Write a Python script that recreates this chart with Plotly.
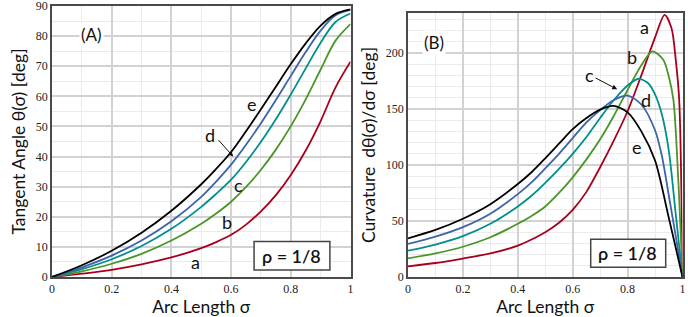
import plotly.graph_objects as go

# ---------------- data ----------------
sigma_theta = [0, 0.1, 0.2, 0.3, 0.4, 0.5, 0.55, 0.6, 0.65, 0.7, 0.75, 0.8, 0.85, 0.9, 0.95, 1.0]
theta_a = [0, 1.1, 2.4, 4.2, 6.5, 9.6, 11.6, 14.0, 17.4, 21.8, 27.2, 33.9, 42.0, 51.8, 63.0, 71.5]
theta_b = [0, 1.9, 4.4, 7.7, 12.1, 17.7, 21.1, 25.0, 29.9, 35.6, 42.3, 50.1, 59.0, 68.9, 78.5, 84.0]
theta_c = [0, 2.6, 5.9, 10.3, 16.0, 23.3, 27.6, 32.3, 38.2, 44.9, 52.4, 60.6, 69.3, 77.8, 84.7, 87.5]
theta_d = [0, 3.2, 7.1, 12.1, 18.5, 26.6, 31.7, 37.3, 43.9, 51.1, 58.8, 66.8, 74.7, 81.8, 86.9, 88.7]
theta_e = [0, 3.9, 8.7, 14.7, 22.0, 30.8, 35.9, 41.5, 48.4, 55.7, 63.2, 70.7, 77.6, 83.5, 87.4, 88.9]

sigma_ka = [0, 0.1, 0.2, 0.3, 0.4, 0.45, 0.5, 0.55, 0.6, 0.65, 0.7, 0.75, 0.8, 0.85, 0.9, 0.935, 0.96, 0.975, 0.988, 1.0]
kappa_a = [9.5, 12.5, 16.5, 21, 28, 33.5, 40, 48.5, 60, 76, 98, 122, 148, 180, 214, 234, 222, 195, 158, 0]
sigma_kb = [0, 0.1, 0.2, 0.3, 0.4, 0.45, 0.5, 0.55, 0.6, 0.65, 0.7, 0.75, 0.8, 0.85, 0.89, 0.93, 0.95, 0.967, 0.985, 1.0]
kappa_b = [16.7, 21, 27, 35.5, 47.5, 54.5, 63, 75, 89, 105, 123, 144, 167, 189, 201.5, 194, 179, 158, 85, 0]
sigma_kc = [0, 0.1, 0.2, 0.3, 0.4, 0.45, 0.5, 0.55, 0.6, 0.65, 0.7, 0.75, 0.8, 0.84, 0.875, 0.9, 0.925, 0.95, 0.975, 1.0]
kappa_c = [23.5, 29, 36.5, 47.5, 63, 72.5, 84, 96.5, 110, 125, 142, 158, 171, 177, 173, 163, 145, 113, 57, 0]
sigma_kd = [0, 0.1, 0.2, 0.3, 0.4, 0.45, 0.5, 0.55, 0.6, 0.65, 0.7, 0.75, 0.8, 0.85, 0.9, 0.925, 0.95, 0.975, 1.0]
kappa_d = [29.5, 36, 44.5, 56.5, 74, 84.5, 97, 110, 124, 138, 149, 158, 162, 154, 131, 108, 73, 37, 0]
sigma_ke = [0, 0.1, 0.2, 0.3, 0.4, 0.45, 0.5, 0.55, 0.6, 0.65, 0.7, 0.75, 0.8, 0.85, 0.9, 0.95, 1.0]
kappa_e = [34.5, 42, 52, 65, 83, 93.5, 106, 119, 132, 142, 149.5, 152.7, 147, 130, 104, 53, 0]

curve_names = ["a", "b", "c", "d", "e"]
curve_colors = ["#a8001c", "#4a9628", "#00908c", "#3c64aa", "#000000"]
x_ticks = [0, 0.2, 0.4, 0.6, 0.8, 1]
x_tick_text = ["0", "0.2", "0.4", "0.6", "0.8", "1"]
theta_ticks = [0, 10, 20, 30, 40, 50, 60, 70, 80, 90]
kappa_ticks = [0, 50, 100, 150, 200]
rho_text = "ρ = 1/8"

# ---------------- figure ----------------
W, H = 688, 317
fig = go.Figure()

thetas = [theta_a, theta_b, theta_c, theta_d, theta_e]
ksig = [sigma_ka, sigma_kb, sigma_kc, sigma_kd, sigma_ke]
kaps = [kappa_a, kappa_b, kappa_c, kappa_d, kappa_e]
for name, col, th in zip(curve_names, curve_colors, thetas):
    fig.add_trace(go.Scatter(x=sigma_theta, y=th, mode="lines", name=name,
                             line=dict(color=col, width=1.8, shape="spline", smoothing=1.0),
                             xaxis="x", yaxis="y", showlegend=False, hoverinfo="skip"))
for name, col, s, k in zip(curve_names, curve_colors, ksig, kaps):
    fig.add_trace(go.Scatter(x=s, y=k, mode="lines", name=name,
                             line=dict(color=col, width=1.8, shape="spline", smoothing=0.8),
                             xaxis="x2", yaxis="y2", showlegend=False, hoverinfo="skip"))

def px_x(p):
    return p / W

def px_y(p):
    return 1 - p / H

tick_font = dict(family="Liberation Serif", size=12, color="#222")
title_font = dict(family="Lato", size=17.5, color="#111")
grid_major = "#d2d2d2"
grid_minor = "#ebebeb"
frame = "#4a4a4a"

common_x = dict(range=[0, 1], tickvals=x_ticks, ticktext=x_tick_text, tickfont=tick_font,
                showgrid=True, gridcolor=grid_major, gridwidth=1.5,
                minor=dict(dtick=0.1, showgrid=True, gridcolor=grid_minor, gridwidth=1),
                showline=True, linecolor=frame, linewidth=1.5, mirror=True,
                zeroline=False, ticks="", ticklen=0, automargin=False,
                ticklabeloverflow="allow",
                title=dict(text="Arc Length σ", font=title_font, standoff=6))

fig.update_layout(
    width=W, height=H, margin=dict(l=0, r=0, t=0, b=0, autoexpand=False),
    paper_bgcolor="white", plot_bgcolor="white",
    xaxis=dict(domain=[px_x(52), px_x(350.5)], anchor="y", **common_x),
    yaxis=dict(domain=[px_y(277), px_y(6)], anchor="x", range=[0, 90], tickvals=theta_ticks,
               tickfont=tick_font, showgrid=True, gridcolor=grid_major, gridwidth=1.5,
               minor=dict(dtick=5, showgrid=True, gridcolor=grid_minor, gridwidth=1),
               showline=True, linecolor=frame, linewidth=1.5, mirror=True, zeroline=False,
               ticks="", ticklen=0, automargin=False, ticklabeloverflow="allow",
               title=dict(text="Tangent Angle θ(σ) [deg]", font=title_font, standoff=6)),
    xaxis2=dict(domain=[px_x(408), px_x(682.5)], anchor="y2", **common_x),
    yaxis2=dict(domain=[px_y(277), px_y(13)], anchor="x2", range=[0, 235.7], tickvals=kappa_ticks,
                tickfont=tick_font, showgrid=True, gridcolor=grid_major, gridwidth=1.5,
                minor=dict(dtick=10, showgrid=True, gridcolor=grid_minor, gridwidth=1),
                showline=True, linecolor=frame, linewidth=1.5, mirror=True, zeroline=False,
                ticks="", ticklen=0, automargin=False, ticklabeloverflow="allow",
                title=dict(text="Curvature  dθ(σ)/dσ [deg]", font=title_font, standoff=6)),
)

lab_font = dict(family="Lato", size=18, color="#111")
left_labels = {"a": (0.482, 5.1), "b": (0.585, 18.4), "c": (0.624, 30.6),
               "d": (0.529, 47.2), "e": (0.669, 57.5)}
right_labels = {"a": (0.860, 223.5), "b": (0.817, 196.7), "c": (0.663, 180.4),
                "d": (0.866, 158.0), "e": (0.833, 116.3)}
for t, (x, y) in left_labels.items():
    fig.add_annotation(x=x, y=y, xref="x", yref="y", text=t, showarrow=False, font=lab_font)
for t, (x, y) in right_labels.items():
    fig.add_annotation(x=x, y=y, xref="x2", yref="y2", text=t, showarrow=False, font=lab_font)

# arrows
fig.add_annotation(x=0.607, y=40, xref="x", yref="y", ax=-16, ay=-18, text="",
                   showarrow=True, arrowhead=2, arrowsize=1, arrowwidth=1, arrowcolor="#111")
fig.add_annotation(x=0.762, y=167.6, xref="x2", yref="y2", ax=-23, ay=-12, text="",
                   showarrow=True, arrowhead=2, arrowsize=1, arrowwidth=1, arrowcolor="#111")

# panel labels
fig.add_annotation(x=px_x(79), y=px_y(22), xref="paper", yref="paper", text="(A)",
                   showarrow=False, font=dict(family="Lato", size=17, color="#111"),
                   bgcolor="white")
fig.add_annotation(x=px_x(434), y=px_y(30), xref="paper", yref="paper", text="(B)",
                   showarrow=False, font=dict(family="Lato", size=17, color="#111"),
                   bgcolor="white")

# rho boxes
rho_font = dict(family="Lato", size=18, color="#111", weight=600)
fig.add_shape(type="rect", xref="x", yref="y", x0=0.677, x1=0.931, y0=2.33, y1=11.8,
              line=dict(color="#444", width=1.5), fillcolor="white", layer="above")
fig.add_annotation(x=0.804, y=7.0, xref="x", yref="y", text=rho_text, showarrow=False,
                   font=rho_font)
fig.add_shape(type="rect", xref="x2", yref="y2", x0=0.6656, x1=0.9388, y0=8.66, y1=33.66,
              line=dict(color="#444", width=1.5), fillcolor="white", layer="above")
fig.add_annotation(x=0.801, y=21.4, xref="x2", yref="y2", text=rho_text, showarrow=False,
                   font=rho_font)

fig.write_html("out.html", config={"displayModeBar": False},
               post_script="document.body.style.margin='0px';")
